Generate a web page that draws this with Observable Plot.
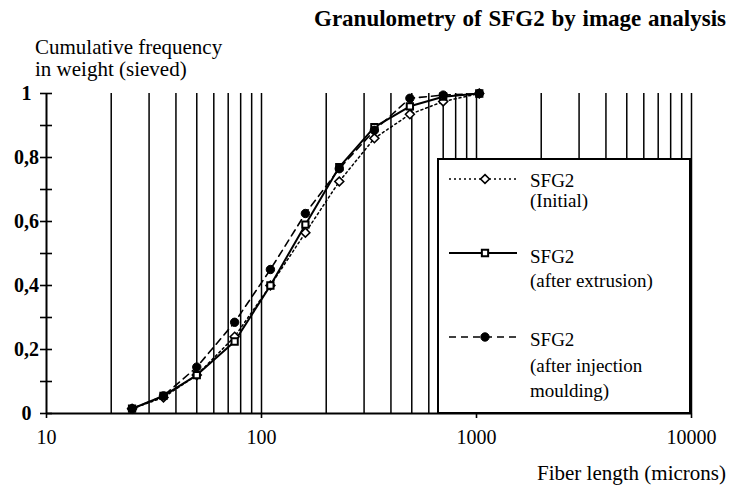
<!DOCTYPE html>
<html>
<head>
<meta charset="utf-8">
<script src="https://cdn.jsdelivr.net/npm/d3@7"></script>
<script src="https://cdn.jsdelivr.net/npm/@observablehq/plot@0.6"></script>
<style>
  body { margin: 0; background: #fff; }
  #wrap { position: relative; width: 729px; height: 487px; overflow: hidden; background: #fff;
          font-family: "Liberation Serif", "Times New Roman", serif; color: #000; }
  #wrap > svg { position: absolute; left: 0; top: 0; }
  .t { position: absolute; white-space: nowrap; }
  #legend { position: absolute; left: 437px; top: 158px; width: 254px; height: 256px; box-sizing: border-box;
            border: 2px solid #000; background: #fff; }
  #legend svg { position: absolute; left: 0; top: 0; }
</style>
</head>
<body>
<div id="wrap"></div>
<script>
// ---- data ----
const fiberLength = [25, 35, 50, 75, 110, 160, 230, 335, 490, 700, 1030];
const initialVals   = [0.015, 0.05, 0.12, 0.24, 0.40, 0.565, 0.725, 0.86, 0.935, 0.975, 1.0];
const extrusionVals = [0.015, 0.055, 0.12, 0.225, 0.40, 0.59, 0.77, 0.895, 0.96, 0.99, 1.0];
const injectionVals = [0.015, 0.055, 0.145, 0.285, 0.45, 0.625, 0.765, 0.885, 0.985, 0.995, 1.0];
const seriesNames = ["SFG2 (Initial)", "SFG2 (after extrusion)", "SFG2 (after injection moulding)"];
const legendLines = [["SFG2", "(Initial)"], ["SFG2", "(after extrusion)"], ["SFG2", "(after injection", "moulding)"]];
const xTicks = [10, 100, 1000, 10000];
const xTickLabels = ["10", "100", "1000", "10000"];
const yTicks = [0, 0.2, 0.4, 0.6, 0.8, 1];
const yTickLabels = ["0", "0,2", "0,4", "0,6", "0,8", "1"];
const yMarks = [0, 0.1, 0.2, 0.3, 0.4, 0.5, 0.6, 0.7, 0.8, 0.9, 1];
const gridX = [20, 30, 40, 50, 60, 70, 80, 90, 100, 200, 300, 400, 500, 600, 700, 800, 900, 1000,
               2000, 3000, 4000, 5000, 6000, 7000, 8000, 9000, 10000];
const title = "Granulometry of SFG2 by image analysis";
const yLabel = ["Cumulative frequency", "in weight (sieved)"];
const xLabel = "Fiber length (microns)";

// ---- styles ----
const styles = [
  {dash: "2,3", width: 1.5, symbol: "diamond2", fill: "#fff", mstroke: 1.6, r: 4},
  {dash: null, width: 2, symbol: "square2", fill: "#fff", mstroke: 2, r: 4},
  {dash: "7,5", width: 1.6, symbol: "circle", fill: "#000", mstroke: 1, r: 4.2}
];
const valueSets = [initialVals, extrusionVals, injectionVals];
const rows = valueSets.map((vals, i) => fiberLength.map((x, j) => ({series: seriesNames[i], x, y: vals[j]})));

const W = 729, H = 487, mL = 46, mR = 38, mT = 93, mB = 74;
const frameW = W - mL - mR;

const marks = [
  Plot.ruleX(gridX, {x: d => d, y1: 0, y2: 1, stroke: "#000", strokeWidth: 1.5}),
  Plot.ruleX([10], {x: d => d, y1: 0, y2: 1, stroke: "#000", strokeWidth: 2}),
  Plot.ruleY([0], {y: d => d, stroke: "#000", strokeWidth: 2}),
  // cross tick marks on the y axis
  Plot.ruleY(yMarks, {y: d => d, insetRight: frameW - 12, dx: -6, stroke: "#000", strokeWidth: 1.6}),
];
rows.forEach((data, i) => {
  const s = styles[i];
  marks.push(Plot.line(data, {x: "x", y: "y", stroke: "#000", strokeWidth: s.width, strokeDasharray: s.dash}));
});
rows.forEach((data, i) => {
  const s = styles[i];
  marks.push(Plot.dot(data, {x: "x", y: "y", symbol: s.symbol, r: s.r, fill: s.fill, stroke: "#000", strokeWidth: s.mstroke}));
});
marks.push(
  Plot.axisX({ticks: xTicks, tickFormat: d => xTickLabels[xTicks.indexOf(d)], tickSize: 5, tickPadding: 11,
              fontSize: 20, label: null, stroke: "#000", strokeWidth: 1.6}),
  Plot.axisY({ticks: yTicks, tickFormat: d => yTickLabels[yTicks.findIndex(t => Math.abs(t - d) < 1e-9)], tickSize: 0,
              tickPadding: 20, textAnchor: "middle", fontSize: 20, fontWeight: "bold", label: null})
);

const chart = Plot.plot({
  width: W, height: H,
  marginLeft: mL, marginRight: mR, marginTop: mT, marginBottom: mB,
  x: {type: "log", domain: [10, 10000]},
  y: {domain: [0, 1]},
  style: {fontFamily: "'Liberation Serif', 'Times New Roman', serif", background: "transparent", color: "#000"},
  marks
});

const wrap = document.getElementById("wrap");
wrap.appendChild(chart);

function addText(parent, str, left, cy, size, weight, anchorRight) {
  const d = document.createElement("div");
  d.className = "t";
  d.textContent = str;
  d.style.fontSize = size + "px";
  d.style.lineHeight = size + "px";
  d.style.fontWeight = weight || "normal";
  d.style.top = (cy - size / 2) + "px";
  if (anchorRight) d.style.right = (W - left) + "px"; else d.style.left = left + "px";
  parent.appendChild(d);
  return d;
}

const t = addText(wrap, title, 726, 18, 23, "bold", true);
t.style.wordSpacing = "1px";
addText(wrap, yLabel[0], 35, 47, 21);
addText(wrap, yLabel[1], 35, 69, 21);
addText(wrap, xLabel, 726, 473, 21, "normal", true);

// ---- legend ----
const legend = document.createElement("div");
legend.id = "legend";
wrap.appendChild(legend);
const ns = "http://www.w3.org/2000/svg";
const lsvg = document.createElementNS(ns, "svg");
lsvg.setAttribute("width", 250); lsvg.setAttribute("height", 252);
legend.appendChild(lsvg);
const sampleY = [19, 93, 177];
const textY = [[20, 40], [96, 120], [179, 205, 230]];
const symbolMap = {diamond2: d3.symbolDiamond2, square2: d3.symbolSquare2, circle: d3.symbolCircle};
styles.forEach((s, i) => {
  const line = document.createElementNS(ns, "line");
  line.setAttribute("x1", 10); line.setAttribute("x2", 78);
  line.setAttribute("y1", sampleY[i]); line.setAttribute("y2", sampleY[i]);
  line.setAttribute("stroke", "#000"); line.setAttribute("stroke-width", s.width);
  if (s.dash) line.setAttribute("stroke-dasharray", s.dash);
  lsvg.appendChild(line);
  const p = document.createElementNS(ns, "path");
  p.setAttribute("d", d3.symbol(symbolMap[s.symbol], Math.PI * s.r * s.r)());
  p.setAttribute("transform", `translate(46,${sampleY[i]})`);
  p.setAttribute("fill", s.fill); p.setAttribute("stroke", "#000"); p.setAttribute("stroke-width", s.mstroke);
  lsvg.appendChild(p);
  legendLines[i].forEach((str, k) => addText(legend, str, 91, textY[i][k], 19));
});
</script>
</body>
</html>
